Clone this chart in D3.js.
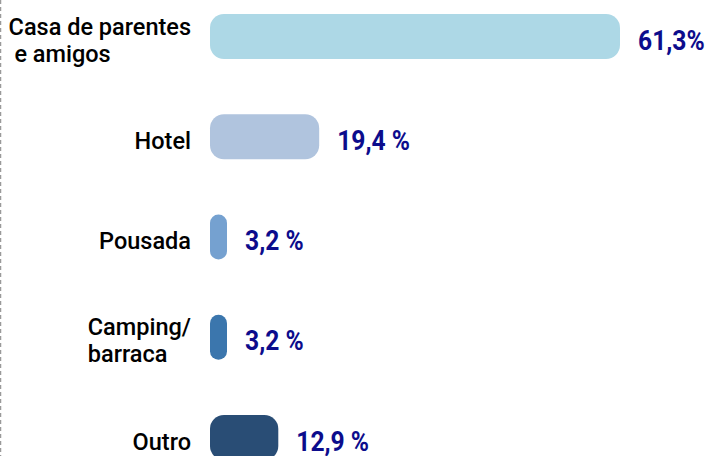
<!DOCTYPE html>
<html>
<head>
<meta charset="utf-8">
<script src="https://cdn.jsdelivr.net/npm/d3@7"></script>
<style>
	html, body { margin: 0; padding: 0; background: #ffffff; }
	svg { display: block; }
</style>
</head>
<body>
<svg id="chart" width="707" height="456"></svg>
<script>
const categories = ['Casa de parentes| e amigos', 'Hotel', 'Pousada', 'Camping/|barraca', 'Outro'];
const values = [61.3, 19.4, 3.2, 3.2, 12.9];
const valueLabels = ['61,3%', '19,4 %', '3,2 %', '3,2 %', '12,9 %'];
const barColors = ['#add8e6', '#b0c4de', '#75a1d0', '#3b76ad', '#294d75'];

const width = 707, height = 456;
const barLeft = 210, barHeight = 45, labelRight = 191;

const svg = d3.select('#chart');

// dashed frame edge on the left
svg.append('line')
	.attr('x1', 0.5).attr('x2', 0.5)
	.attr('y1', 0).attr('y2', height)
	.attr('stroke', '#9a9a9a')
	.attr('stroke-width', 1.5)
	.attr('stroke-dasharray', '4,3');

const y = d3.scalePoint()
	.domain(categories)
	.range([36.5, 437.5]);

const x = d3.scalePow()
	.exponent(1.15)
	.domain([0, 61.3])
	.range([0, 410]);

const rows = categories.map((c, i) => ({ cat: c, value: values[i], label: valueLabels[i], color: barColors[i] }));

const barWidth = (d) => Math.max(x(d.value), 17);

const row = svg.selectAll('g.row')
	.data(rows)
	.join('g')
	.attr('class', 'row');

row.append('rect')
	.attr('x', barLeft)
	.attr('y', (d) => y(d.cat) - barHeight / 2)
	.attr('width', barWidth)
	.attr('height', barHeight)
	.attr('rx', (d) => Math.min(14, barWidth(d) / 2))
	.attr('fill', (d) => d.color);

// value labels, squeezed horizontally to mimic a condensed face
row.append('text')
	.attr('transform', (d) => 'translate(' + (barLeft + barWidth(d) + 18) + ',' + (y(d.cat) + 13) + ') scale(0.88,1)')
	.attr('fill', '#0c0c8c')
	.attr('font-family', 'Roboto, "DejaVu Sans", sans-serif')
	.attr('font-weight', 'bold')
	.attr('font-size', 28)
	.text((d) => d.label);

// category labels: lines left-aligned, block pushed to the right edge
row.each(function(d)
{
	const lines = d.cat.split('|');
	const g = d3.select(this).append('g');
	const t = g.append('text')
		.attr('fill', '#000000')
		.attr('font-family', 'Roboto, "Liberation Sans", sans-serif')
		.attr('font-weight', 500)
		.attr('font-size', 23.5)
		.style('white-space', 'pre');

	t.selectAll('tspan')
		.data(lines)
		.join('tspan')
		.attr('x', 0)
		.attr('dy', (l, i) => i === 0 ? 0 : 27)
		.text((l) => l);

	const w = t.node().getBBox().width;
	const top = lines.length > 1 ? y(d.cat) - 2 : y(d.cat) + 12;
	g.attr('transform', 'translate(' + (labelRight - w) + ',' + top + ')');
});
</script>
</body>
</html>
